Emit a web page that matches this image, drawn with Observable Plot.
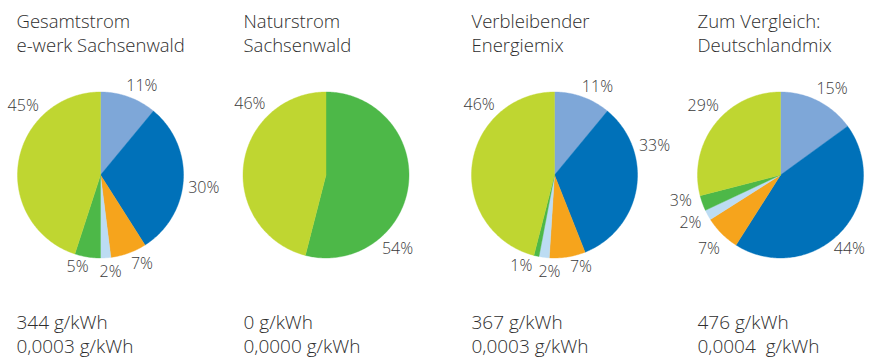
<!DOCTYPE html>
<html><head><meta charset="utf-8">
<script src="https://cdn.jsdelivr.net/npm/d3@7"></script>
<script src="https://cdn.jsdelivr.net/npm/@observablehq/plot@0.6"></script>
<style>body{margin:0;background:#fff}</style>
</head><body><div id="chart"></div>
<script>
// ---- data ----
const categories = ["Kernkraft", "Kohle", "Erdgas", "Sonstige fossile Energieträger", "Sonstige erneuerbare Energien", "Erneuerbare Energien, gefördert nach dem EEG"];
const colors = ["#7ea7d8", "#0071b9", "#f6a41c", "#bcdcf3", "#4db848", "#bfd631"];
const titles = ["Gesamtstrom\ne-werk Sachsenwald", "Naturstrom\nSachsenwald", "Verbleibender\nEnergiemix", "Zum Vergleich:\nDeutschlandmix"];
const gesamtstrom = [11, 30, 7, 2, 5, 45];
const naturstrom = [0, 0, 0, 0, 54, 46];
const verbleibend = [11, 33, 7, 2, 1, 46];
const deutschland = [15, 44, 7, 2, 3, 29];
const co2 = ["344 g/kWh", "0 g/kWh", "367 g/kWh", "476 g/kWh"];
const abfall = ["0,0003 g/kWh", "0,0000 g/kWh", "0,0003 g/kWh", "0,0004\u00a0 g/kWh"];

// ---- layout ----
const pieCx = [100, 325.5, 554, 780];
const pieCy = 174.5, pieR = 83;
const titleX = [16, 243, 471, 697];
// label placement per slice: [angle in degrees clockwise from top, distance from centre]
const labelPlace = [
  [[25, 98], [97, 104], [155, 98], [174, 97], [194, 95], [312, 104]],
  [null, null, null, null, [136, 103], [313, 104]],
  [[26, 98], [74, 104], [164, 96], [183, 97.5], [200, 97], [313, 103]],
  [[31, 100], [137, 101], [224, 103], [242, 102], [255.5, 103], [312, 104]]
];

const series = [gesamtstrom, naturstrom, verbleibend, deutschland];
const slices = [], labels = [], heads = [], foot = [];
series.forEach((vals, i) => {
  const cx = pieCx[i], cy = pieCy;
  const arcs = d3.pie().sort(null).value(d => d)(vals);
  arcs.forEach((a, j) => {
    if (a.endAngle - a.startAngle <= 0) return;
    const key = i + "-" + j, cat = categories[j];
    slices.push({key, cat, x: cx, y: cy});
    const n = Math.max(2, Math.ceil((a.endAngle - a.startAngle) / (Math.PI / 180)));
    for (let k = 0; k <= n; k++) {
      const t = a.startAngle + (a.endAngle - a.startAngle) * k / n;
      slices.push({key, cat, x: cx + pieR * Math.sin(t), y: cy - pieR * Math.cos(t)});
    }
    slices.push({key, cat, x: cx, y: cy});
    const lp = labelPlace[i][j];
    if (lp) {
      const t = lp[0] * Math.PI / 180;
      labels.push({x: cx + lp[1] * Math.sin(t), y: cy - lp[1] * Math.cos(t), text: vals[j] + "%"});
    }
  });
  heads.push({x: titleX[i], y: 10, text: titles[i]});
  foot.push({x: titleX[i], y: 311, text: co2[i] + "\n" + abfall[i]});
});

const chart = Plot.plot({
  width: 874, height: 361, margin: 0,
  x: {domain: [0, 874], range: [0, 874], axis: null},
  y: {domain: [0, 361], range: [0, 361], axis: null},
  color: {domain: categories, range: colors},
  style: {fontFamily: "'Open Sans', sans-serif", background: "#fff", color: "#333"},
  marks: [
    Plot.line(slices, {x: "x", y: "y", z: "key", fill: "cat", stroke: "cat", strokeWidth: 0.4, curve: "linear"}),
    Plot.text(labels, {x: "x", y: "y", text: "text", fontSize: 16, fontWeight: 350, fill: "#3a3a3a"}),
    Plot.text(heads, {x: "x", y: "y", text: "text", textAnchor: "start", lineAnchor: "top", fontSize: 18.5, fontWeight: 350, lineHeight: 1.3, fill: "#2e2e2e"}),
    Plot.text(foot, {x: "x", y: "y", text: "text", textAnchor: "start", lineAnchor: "top", fontSize: 19, fontWeight: 350, lineHeight: 1.27, fill: "#2e2e2e"})
  ]
});
document.getElementById("chart").appendChild(chart);
</script>
</body></html>
